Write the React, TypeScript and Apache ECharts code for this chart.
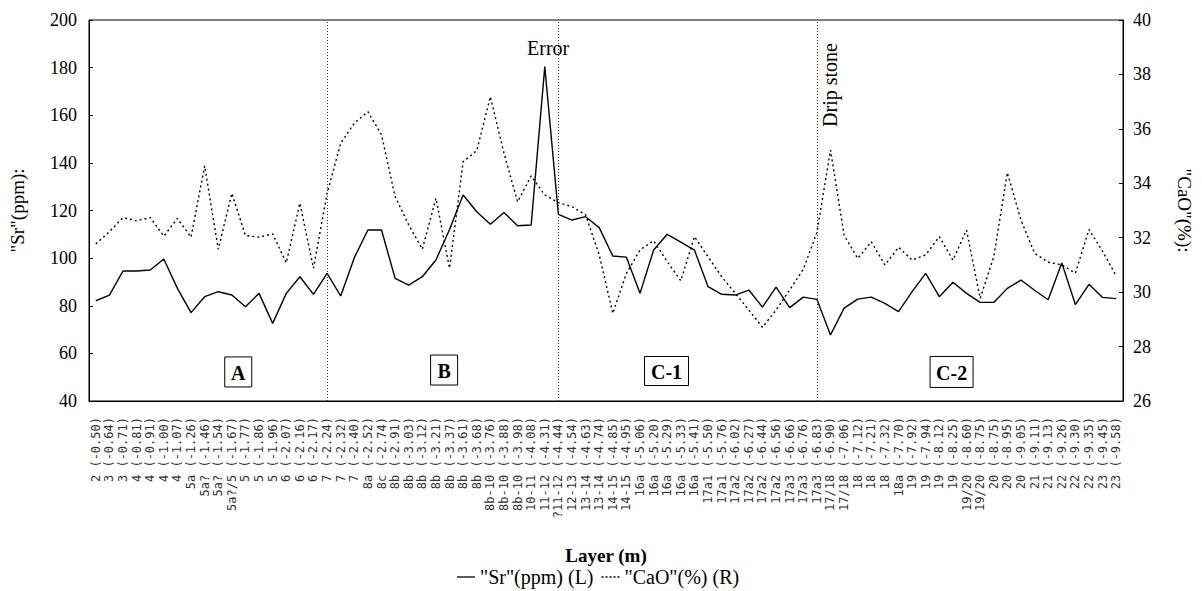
import React, { useEffect, useRef } from "react";
import * as echarts from "echarts";

const layers = [
  "2", "3", "3", "4", "4", "4", "4", "5a", "5a?", "5a?", "5a?/5", "5", "5", "5", "6", "6", "6", "7", "7", "7",
  "8a", "8c", "8b", "8b", "8b", "8b", "8b", "8b", "8b", "8b-10", "8b-10", "8b-10", "10-11", "11-12", "?11-12", "12-13",
  "13-14", "13-14", "14-15", "14-15", "16a", "16a", "16a", "16a", "16a", "17a1", "17a1", "17a2", "17a2", "17a2",
  "17a2", "17a3", "17a3", "17a3", "17/18", "17/18", "18", "18", "18", "18a", "19", "19", "19", "19", "19/20", "19/20",
  "20", "20", "20", "21", "21", "22", "22", "22", "23", "23",
];
const depths = [
  "-0.50", "-0.64", "-0.71", "-0.81", "-0.91", "-1.00", "-1.07", "-1.26", "-1.46", "-1.54", "-1.67", "-1.77", "-1.86",
  "-1.96", "-2.07", "-2.16", "-2.17", "-2.24", "-2.32", "-2.40", "-2.52", "-2.74", "-2.91", "-3.03", "-3.12", "-3.21",
  "-3.37", "-3.61", "-3.68", "-3.76", "-3.88", "-3.98", "-4.08", "-4.31", "-4.44", "-4.54", "-4.63", "-4.74", "-4.85",
  "-4.95", "-5.06", "-5.20", "-5.29", "-5.33", "-5.41", "-5.50", "-5.76", "-6.02", "-6.27", "-6.44", "-6.56", "-6.66",
  "-6.76", "-6.83", "-6.90", "-7.06", "-7.12", "-7.21", "-7.32", "-7.70", "-7.92", "-7.94", "-8.12", "-8.25", "-8.60",
  "-8.75", "-8.75", "-8.95", "-9.05", "-9.11", "-9.13", "-9.26", "-9.30", "-9.35", "-9.45", "-9.58",
];
const srPpm = [
  82.1, 84.5, 94.6, 94.6, 95.0, 99.6, 87.3, 77.1, 83.8, 85.9, 84.5, 79.6, 85.2, 72.6, 85.2, 92.2, 84.8, 93.6, 84.1, 100.2,
  111.8, 111.8, 91.5, 88.7, 92.2, 99.2, 112.0, 126.5, 119.5, 114.2, 119.2, 113.6, 113.9, 180.4, 118.4, 116.0, 117.4, 112.8,
  100.9, 100.4, 85.2, 103.4, 110.0, 106.7, 103.4, 88.0, 84.8, 84.5, 86.6, 79.4, 87.8, 79.2, 83.6, 82.7, 67.7, 79.0,
  82.8, 83.6, 81.0, 77.5, 85.9, 93.6, 83.8, 89.9, 85.2, 81.4, 81.4, 87.3, 90.8, 86.5, 82.5, 98.0, 80.5, 89.0, 83.5, 83.0,
];
const caoPct = [
  31.77, 32.22, 32.74, 32.62, 32.74, 32.06, 32.71, 32.02, 34.64, 31.58, 33.63, 32.08, 32.02, 32.14, 31.08, 33.27, 30.88,
  33.63, 35.47, 36.21, 36.63, 35.78, 33.51, 32.47, 31.58, 33.45, 30.88, 34.79, 35.2, 37.18, 35.11, 33.32, 34.27, 33.57,
  33.29, 33.14, 32.84, 31.37, 29.22, 30.69, 31.55, 31.89, 31.12, 30.42, 32.04, 31.3, 30.57, 29.96, 29.34, 28.71, 29.34,
  30.08, 30.84, 32.19, 35.22, 32.1, 31.24, 31.85, 31.0, 31.65, 31.18, 31.37, 32.04, 31.18, 32.28, 29.77, 31.3, 34.39,
  32.65, 31.43, 31.1, 31.0, 30.7, 32.3, 31.5, 30.6,
];
const boundaryIdx = [17, 34, 53];
const zoneNames = ["A", "B", "C-1", "C-2"];
const zoneAnchors = [[10.47, 52.2], [25.6, 53.0], [41.95, 52.6], [62.9, 52.2]];
const zoneSizes = [[27, 30], [27, 30], [44, 29], [43, 31]];
const errorAnchor = [33.25, 188.3];
const dripAnchor = [54.0, 172.7];

const SERIF = "'Liberation Serif', 'Times New Roman', serif";
const SR_NAME = '"Sr"(ppm) (L)';
const CAO_NAME = '"CaO"(%) (R)';
const SOLID_ICON = "path://M0,0H18V1.3H0Z";
const DOTTED_ICON = "path://M0,0H2V1.3H0Z M4,0H6V1.3H4Z M8,0H10V1.3H8Z M12,0H14V1.3H12Z M16,0H18V1.3H16Z";

export default function App() {
  const ref = useRef<HTMLDivElement>(null);
  useEffect(() => {
    document.body.style.margin = "0";
    const chart = echarts.init(ref.current!, null, { renderer: "svg" });
    const categories = layers.map((l, i) => `${l} (${depths[i]})`);
    chart.setOption({
      animation: false,
      backgroundColor: "#fff",
      grid: { left: 86, top: 20, width: 1045, height: 381, show: true, borderColor: "#000", borderWidth: 1, backgroundColor: "transparent" },
      legend: {
        left: 452,
        top: 562,
        itemWidth: 18,
        itemHeight: 1.3,
        itemGap: 8,
        itemStyle: { color: "#000", borderWidth: 0 },
        lineStyle: { width: 0 },
        textStyle: { fontFamily: SERIF, fontSize: 20, color: "#000" },
        data: [
          { name: SR_NAME, icon: SOLID_ICON },
          { name: CAO_NAME, icon: DOTTED_ICON },
        ],
      },
      xAxis: [
        {
          type: "category",
          data: categories,
          boundaryGap: true,
          name: "Layer (m)",
          nameLocation: "middle",
          nameGap: 145,
          nameTextStyle: { fontFamily: SERIF, fontSize: 19, fontWeight: "bold", color: "#000" },
          axisLine: { lineStyle: { color: "#000", width: 1 } },
          axisTick: { inside: true, length: 3, alignWithLabel: true, interval: 0, lineStyle: { color: "#000" } },
          axisLabel: { interval: 0, rotate: 90, margin: 16, fontFamily: "'DejaVu Sans Mono', monospace", fontSize: 12, color: "#333" },
          splitLine: { show: false },
        },
        {
          type: "category",
          data: categories,
          boundaryGap: true,
          position: "bottom",
          axisLine: { show: false },
          axisTick: { inside: true, length: 6, alignWithLabel: true, interval: (i: number) => i % 5 === 1, lineStyle: { color: "#000" } },
          axisLabel: { show: false },
          splitLine: { show: false },
        },
      ],
      yAxis: [
        {
          type: "value",
          min: 40,
          max: 200,
          interval: 20,
          name: '"Sr"(ppm):',
          nameLocation: "middle",
          nameGap: 62,
          nameTextStyle: { fontFamily: SERIF, fontSize: 19, color: "#000" },
          axisLine: { show: true, lineStyle: { color: "#000" } },
          axisTick: { show: true, inside: true, length: 4, lineStyle: { color: "#000" } },
          axisLabel: { fontFamily: SERIF, fontSize: 18, color: "#000", margin: 12 },
          splitLine: { show: false },
        },
        {
          type: "value",
          min: 26,
          max: 40,
          interval: 2,
          position: "right",
          name: '"CaO"(%):',
          nameLocation: "middle",
          nameGap: 52,
          nameRotate: -90,
          nameTextStyle: { fontFamily: SERIF, fontSize: 19, color: "#000" },
          axisLine: { show: true, lineStyle: { color: "#000" } },
          axisTick: { show: true, inside: true, length: 4, lineStyle: { color: "#000" } },
          axisLabel: { fontFamily: SERIF, fontSize: 18, color: "#000", margin: 10 },
          splitLine: { show: false },
        },
      ],
      series: [
        {
          name: SR_NAME,
          type: "line",
          data: srPpm,
          xAxisIndex: 0,
          yAxisIndex: 0,
          symbol: "none",
          lineStyle: { color: "#000", width: 1.4, type: "solid" },
          itemStyle: { color: "#000" },
          markLine: {
            silent: true,
            symbol: ["none", "none"],
            label: { show: false },
            lineStyle: { color: "#333", width: 1, type: [1, 2] },
            data: boundaryIdx.map((i) => ({ xAxis: i })),
          },
        },
        {
          name: CAO_NAME,
          type: "line",
          data: caoPct,
          xAxisIndex: 0,
          yAxisIndex: 1,
          symbol: "none",
          lineStyle: { color: "#000", width: 1.4, type: [2, 3] },
          itemStyle: { color: "#000" },
        },
      ],
    });

    const px = (c: number, v: number) => {
      const i0 = Math.floor(c);
      const f = c - i0;
      const a = chart.convertToPixel({ xAxisIndex: 0, yAxisIndex: 0 }, [i0, v]) as number[];
      const b = chart.convertToPixel({ xAxisIndex: 0, yAxisIndex: 0 }, [i0 + 1, v]) as number[];
      return [a[0] + (b[0] - a[0]) * f, a[1]];
    };
    const graphics: any[] = [];
    zoneNames.forEach((n, k) => {
      const [cx, cy] = px(zoneAnchors[k][0], zoneAnchors[k][1]);
      const [w, h] = zoneSizes[k];
      graphics.push({
        type: "rect",
        shape: { x: cx - w / 2, y: cy - h / 2, width: w, height: h },
        style: { fill: "#fff", stroke: "#000", lineWidth: 1 },
        z: 10,
      });
      graphics.push({
        type: "text",
        x: cx,
        y: cy + 1,
        style: { text: n, font: `bold 20px ${SERIF}`, fill: "#000", align: "center", verticalAlign: "middle" },
        z: 11,
      });
    });
    const [ex, ey] = px(errorAnchor[0], errorAnchor[1]);
    graphics.push({
      type: "text",
      x: ex,
      y: ey,
      style: { text: "Error", font: `20px ${SERIF}`, fill: "#000", align: "center", verticalAlign: "middle" },
      z: 11,
    });
    const [dx, dy] = px(dripAnchor[0], dripAnchor[1]);
    graphics.push({
      type: "text",
      x: dx,
      y: dy,
      rotation: Math.PI / 2,
      style: { text: "Drip stone", font: `20px ${SERIF}`, fill: "#000", align: "center", verticalAlign: "middle" },
      z: 11,
    });
    chart.setOption({ graphic: graphics });

    return () => chart.dispose();
  }, []);
  return <div ref={ref} style={{ position: "absolute", left: 0, top: 0, width: 1202, height: 591 }} />;
}
